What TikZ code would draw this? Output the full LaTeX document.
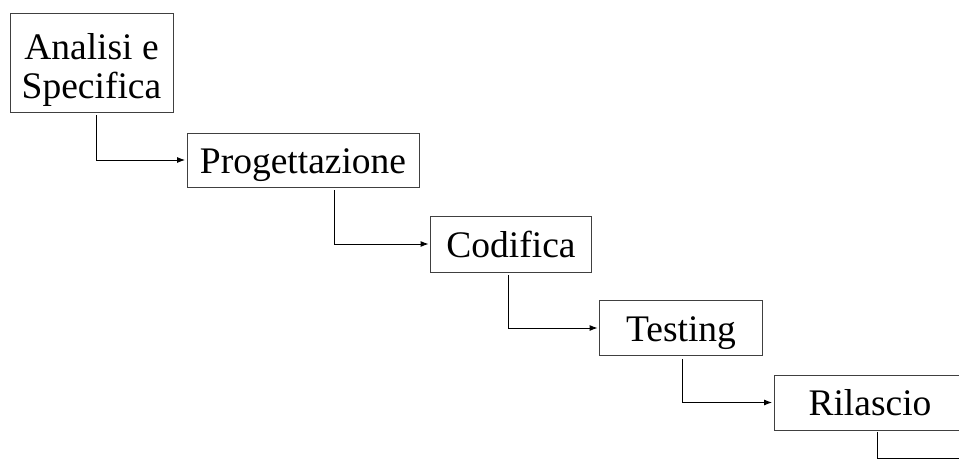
\documentclass[tikz,border=0pt]{standalone}
\usepackage{fontspec}
\setmainfont{Liberation Serif}
\usetikzlibrary{arrows.meta}
\tikzset{
  stage/.style={draw=black!75, line width=0.9pt, rectangle, inner sep=0pt,
    font=\fontsize{37.5}{39}\selectfont, text height=26pt, text depth=0pt},
  conn/.style={draw=black, line width=0.9pt, shorten <=3pt, shorten >=1.5pt,
    -{Latex[length=8pt,width=6pt]}},
  tail/.style={draw=black, line width=0.9pt, shorten <=1.5pt}
}
\begin{document}
\begin{tikzpicture}[x=1pt,y=-1pt]
\clip (0,0) rectangle (959,459);
\node[stage, minimum width=163pt, minimum height=99pt, align=center,
      text height=71pt, text depth=0pt] (a) at (91.5,62.5) {Analisi e\\Specifica};
\node[stage, minimum width=232pt, minimum height=54pt] (b) at (303,160) {Progettazione};
\node[stage, minimum width=161pt, minimum height=56pt] (c) at (511,244) {Codifica};
\node[stage, minimum width=163pt, minimum height=55pt] (d) at (681,328) {Testing};
\node[stage, minimum width=192pt, minimum height=55pt] (e) at (870,402.5) {Rilascio};
\coordinate (xa) at (96,0);
\coordinate (xb) at (334,0);
\coordinate (xc) at (508,0);
\coordinate (xd) at (682,0);
\coordinate (xe) at (877,0);
\coordinate (fin) at (970,458);
\draw[conn] (a.south -| xa) |- (b.west);
\draw[conn] (b.south -| xb) |- (c.west);
\draw[conn] (c.south -| xc) |- (d.west);
\draw[conn] (d.south -| xd) |- (e.west);
\draw[tail] (e.south -| xe) |- (fin);
\end{tikzpicture}
\end{document}
